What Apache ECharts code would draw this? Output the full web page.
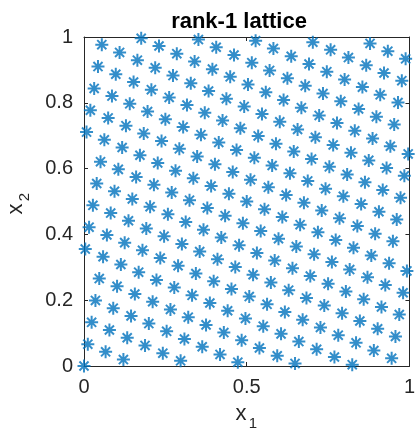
<!DOCTYPE html>
<html>
<head>
<meta charset="utf-8">
<script src="https://cdn.jsdelivr.net/npm/echarts@6/dist/echarts.min.js"></script>
<style>
html, body { margin: 0; padding: 0; background: #fff; }
#chart { width: 418px; height: 434px; }
</style>
</head>
<body>
<div id="chart"></div>
<script>
// rank-1 lattice with N = 256 points, stored as numerators over N
const N = 256;
const latticeX = [
  0, 1, 2, 3, 4, 5, 6, 7, 8, 9, 10, 11, 12, 13, 14, 15,
  16, 17, 18, 19, 20, 21, 22, 23, 24, 25, 26, 27, 28, 29, 30, 31,
  32, 33, 34, 35, 36, 37, 38, 39, 40, 41, 42, 43, 44, 45, 46, 47,
  48, 49, 50, 51, 52, 53, 54, 55, 56, 57, 58, 59, 60, 61, 62, 63,
  64, 65, 66, 67, 68, 69, 70, 71, 72, 73, 74, 75, 76, 77, 78, 79,
  80, 81, 82, 83, 84, 85, 86, 87, 88, 89, 90, 91, 92, 93, 94, 95,
  96, 97, 98, 99, 100, 101, 102, 103, 104, 105, 106, 107, 108, 109, 110, 111,
  112, 113, 114, 115, 116, 117, 118, 119, 120, 121, 122, 123, 124, 125, 126, 127,
  128, 129, 130, 131, 132, 133, 134, 135, 136, 137, 138, 139, 140, 141, 142, 143,
  144, 145, 146, 147, 148, 149, 150, 151, 152, 153, 154, 155, 156, 157, 158, 159,
  160, 161, 162, 163, 164, 165, 166, 167, 168, 169, 170, 171, 172, 173, 174, 175,
  176, 177, 178, 179, 180, 181, 182, 183, 184, 185, 186, 187, 188, 189, 190, 191,
  192, 193, 194, 195, 196, 197, 198, 199, 200, 201, 202, 203, 204, 205, 206, 207,
  208, 209, 210, 211, 212, 213, 214, 215, 216, 217, 218, 219, 220, 221, 222, 223,
  224, 225, 226, 227, 228, 229, 230, 231, 232, 233, 234, 235, 236, 237, 238, 239,
  240, 241, 242, 243, 244, 245, 246, 247, 248, 249, 250, 251, 252, 253, 254, 255
];
const latticeY = [
  0, 91, 182, 17, 108, 199, 34, 125, 216, 51, 142, 233, 68, 159, 250, 85,
  176, 11, 102, 193, 28, 119, 210, 45, 136, 227, 62, 153, 244, 79, 170, 5,
  96, 187, 22, 113, 204, 39, 130, 221, 56, 147, 238, 73, 164, 255, 90, 181,
  16, 107, 198, 33, 124, 215, 50, 141, 232, 67, 158, 249, 84, 175, 10, 101,
  192, 27, 118, 209, 44, 135, 226, 61, 152, 243, 78, 169, 4, 95, 186, 21,
  112, 203, 38, 129, 220, 55, 146, 237, 72, 163, 254, 89, 180, 15, 106, 197,
  32, 123, 214, 49, 140, 231, 66, 157, 248, 83, 174, 9, 100, 191, 26, 117,
  208, 43, 134, 225, 60, 151, 242, 77, 168, 3, 94, 185, 20, 111, 202, 37,
  128, 219, 54, 145, 236, 71, 162, 253, 88, 179, 14, 105, 196, 31, 122, 213,
  48, 139, 230, 65, 156, 247, 82, 173, 8, 99, 190, 25, 116, 207, 42, 133,
  224, 59, 150, 241, 76, 167, 2, 93, 184, 19, 110, 201, 36, 127, 218, 53,
  144, 235, 70, 161, 252, 87, 178, 13, 104, 195, 30, 121, 212, 47, 138, 229,
  64, 155, 246, 81, 172, 7, 98, 189, 24, 115, 206, 41, 132, 223, 58, 149,
  240, 75, 166, 1, 92, 183, 18, 109, 200, 35, 126, 217, 52, 143, 234, 69,
  160, 251, 86, 177, 12, 103, 194, 29, 120, 211, 46, 137, 228, 63, 154, 245,
  80, 171, 6, 97, 188, 23, 114, 205, 40, 131, 222, 57, 148, 239, 74, 165
];
const xTicks = [0, 0.5, 1];
const yTicks = [0, 0.2, 0.4, 0.6, 0.8, 1];

const points = latticeX.map((v, i) => [v / N, latticeY[i] / N]);

const FONT = "Liberation Sans";
const AXIS_COLOR = "#262626";
// MATLAB style asterisk marker
const ASTERISK = "path://M5,0L5,10M0,5L10,5M1.5,1.5L8.5,8.5M1.5,8.5L8.5,1.5";

function makeAxis(ticks, position, showLabel) {
  return {
    type: "value",
    position: position,
    min: ticks[0],
    max: ticks[ticks.length - 1],
    interval: ticks[1] - ticks[0],
    axisLine: { show: true, onZero: false, lineStyle: { color: AXIS_COLOR, width: 1 } },
    axisTick: { show: true, inside: true, length: 4, lineStyle: { color: AXIS_COLOR, width: 1 } },
    axisLabel: {
      show: showLabel,
      color: AXIS_COLOR,
      fontSize: 20,
      fontFamily: FONT,
      margin: 11,
    },
    splitLine: { show: false },
  };
}

const chart = echarts.init(document.getElementById("chart"));
chart.setOption({
  animation: false,
  backgroundColor: "#fff",
  title: {
    text: "rank-1 lattice",
    left: 234,
    top: 6,
    textAlign: "center",
    textStyle: { fontSize: 22, fontWeight: "bold", color: "#000", fontFamily: FONT },
  },
  grid: { left: 84, top: 37, width: 328, height: 329 },
  xAxis: [makeAxis(xTicks, "bottom", true), makeAxis(xTicks, "top", false)],
  yAxis: [makeAxis(yTicks, "left", true), makeAxis(yTicks, "right", false)],
  graphic: [
    { type: "text", x: 241, y: 414, style: { text: "x", fontSize: 22, fontFamily: FONT, fill: AXIS_COLOR, align: "center", verticalAlign: "middle" } },
    { type: "text", x: 253, y: 424, style: { text: "1", fontSize: 15, fontFamily: FONT, fill: AXIS_COLOR, align: "center", verticalAlign: "middle" } },
    { type: "text", x: 16, y: 209, rotation: Math.PI / 2, style: { text: "x", fontSize: 22, fontFamily: FONT, fill: AXIS_COLOR, align: "center", verticalAlign: "middle" } },
    { type: "text", x: 25, y: 197, rotation: Math.PI / 2, style: { text: "2", fontSize: 15, fontFamily: FONT, fill: AXIS_COLOR, align: "center", verticalAlign: "middle" } },
  ],
  series: [
    {
      type: "scatter",
      xAxisIndex: 0,
      yAxisIndex: 0,
      data: points,
      symbol: ASTERISK,
      symbolSize: 13,
      clip: false,
      itemStyle: { color: "rgba(0,0,0,0)", borderColor: "#0072BD", borderWidth: 2 },
    },
  ],
});
</script>
</body>
</html>
